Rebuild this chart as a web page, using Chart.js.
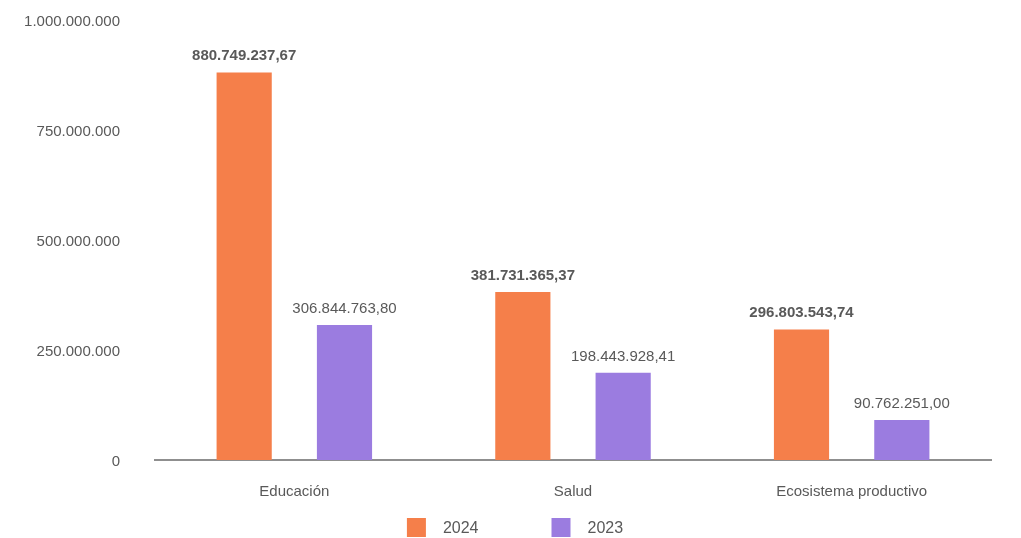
<!DOCTYPE html>
<html>
<head>
<meta charset="utf-8">
<script src="https://cdn.jsdelivr.net/npm/chart.js@4.4.1/dist/chart.umd.min.js"></script>
<style>
  html, body { margin: 0; padding: 0; background: #fff; }
  #wrap { width: 1021px; height: 538px; }
</style>
</head>
<body>
<div id="wrap"><canvas id="chart"></canvas></div>
<script>
const categories = ['Educación', 'Salud', 'Ecosistema productivo'];
const seriesNames = ['2024', '2023'];
const values2024 = [880749237.67, 381731365.37, 296803543.74];
const values2023 = [306844763.80, 198443928.41, 90762251.00];
const yTicks = [0, 250000000, 500000000, 750000000, 1000000000];

const COLORS = ['#F57F4A', '#9B7CE0'];
const TEXT = '#595959';
const FONT = '"Liberation Sans", Arial, sans-serif';

// 1234567.8 -> "1.234.567,80"
function fmt(v, dec) {
  const parts = v.toFixed(dec).split('.');
  const int = parts[0].replace(/\B(?=(\d{3})+(?!\d))/g, '.');
  return parts[1] ? int + ',' + parts[1] : int;
}

const valueLabels = {
  id: 'valueLabels',
  afterDatasetsDraw(chart) {
    const ctx = chart.ctx;
    ctx.save();
    ctx.fillStyle = TEXT;
    ctx.textAlign = 'center';
    ctx.textBaseline = 'alphabetic';
    chart.data.datasets.forEach((ds, i) => {
      ctx.font = (i === 0 ? 'bold ' : '') + '15px ' + FONT;
      chart.getDatasetMeta(i).data.forEach((bar, j) => {
        ctx.fillText(fmt(ds.data[j], 2), bar.x, bar.y - 12);
      });
    });
    ctx.restore();
  }
};

// legend row under the category labels
const bottomLegend = {
  id: 'bottomLegend',
  afterDraw(chart) {
    const ctx = chart.ctx;
    const box = 19, gap = 17, spacing = 73;
    ctx.save();
    ctx.font = '16px ' + FONT;
    const items = chart.data.datasets.map(ds => ({
      text: ds.label, color: ds.backgroundColor, w: ctx.measureText(ds.label).width
    }));
    const total = items.reduce((s, it) => s + box + gap + it.w, 0) + spacing * (items.length - 1);
    let x = 515 - total / 2;
    const y = 518;
    items.forEach(it => {
      ctx.fillStyle = it.color;
      ctx.fillRect(x, y, box, box);
      ctx.fillStyle = TEXT;
      ctx.textBaseline = 'middle';
      ctx.textAlign = 'left';
      ctx.fillText(it.text, x + box + gap, y + box / 2 + 1);
      x += box + gap + it.w + spacing;
    });
    ctx.restore();
  }
};

new Chart(document.getElementById('chart'), {
  type: 'bar',
  data: {
    labels: categories,
    datasets: [
      { label: seriesNames[0], data: values2024, backgroundColor: COLORS[0] },
      { label: seriesNames[1], data: values2023, backgroundColor: COLORS[1] }
    ]
  },
  options: {
    responsive: true,
    maintainAspectRatio: false,
    animation: false,
    categoryPercentage: 0.72,
    barPercentage: 0.55,
    layout: { padding: { top: 0, right: 30, left: 0, bottom: 0 } },
    plugins: {
      legend: { display: false },
      tooltip: { enabled: false }
    },
    scales: {
      x: {
        grid: { display: false, drawTicks: false },
        border: { display: true, color: '#8f8f8f', width: 2 },
        ticks: { color: TEXT, font: { size: 15, family: FONT }, padding: 23 },
        afterFit: scale => { scale.height = 78; }
      },
      y: {
        min: 0,
        max: 1000000000,
        grid: { display: false, drawTicks: false },
        border: { display: false },
        afterBuildTicks: scale => { scale.ticks = yTicks.map(v => ({ value: v })); },
        ticks: {
          color: TEXT,
          font: { size: 15, family: FONT },
          padding: 35,
          labelOffset: 2,
          callback: v => fmt(v, 0)
        },
        afterFit: scale => {
          scale.width = 155;
          scale.paddingTop = 20;
          scale.paddingBottom = 0;
        }
      }
    }
  },
  plugins: [valueLabels, bottomLegend]
});
</script>
</body>
</html>
